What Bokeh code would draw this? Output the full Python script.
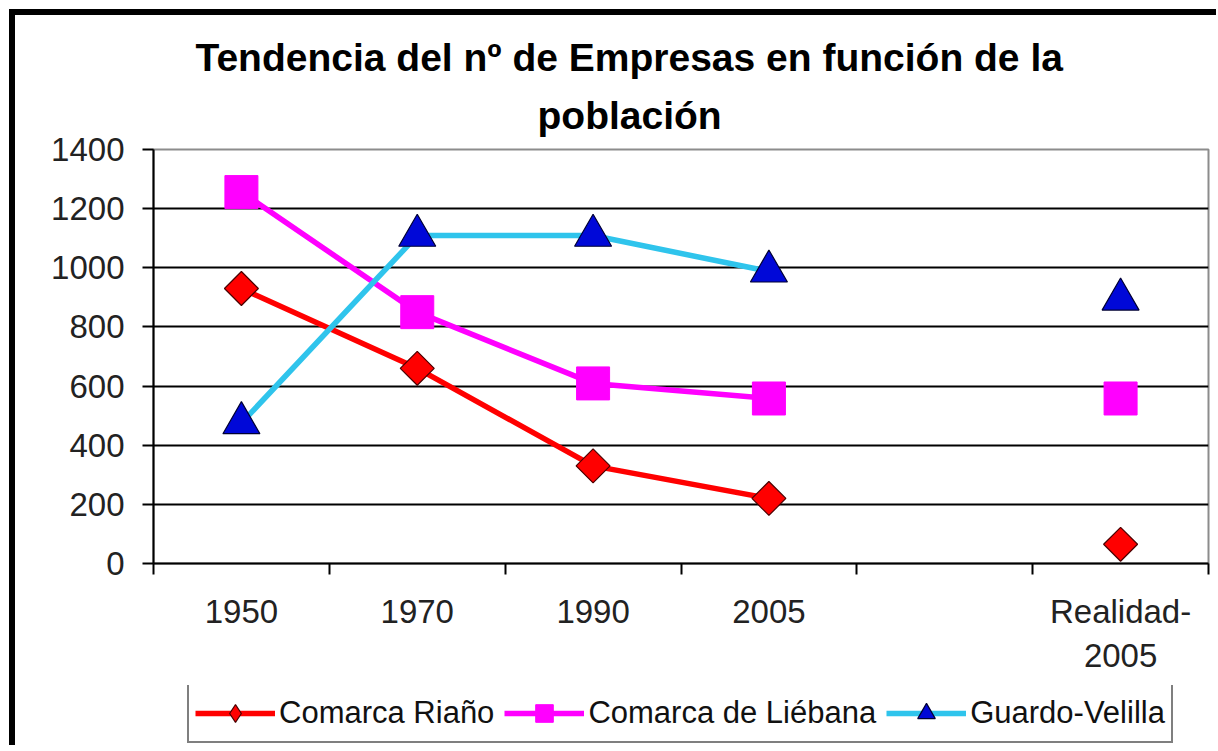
import numpy as np
from bokeh.plotting import figure
from bokeh.layouts import column
from bokeh.models import FixedTicker, Legend, LegendItem, Title, Range1d
from bokeh.embed import file_html
from bokeh.resources import INLINE

# ---- data ----
categories = ["1950", "1970", "1990", "2005", "", "Realidad-\n2005"]
riano = [930, 660, 330, 220, np.nan, 65]
liebana = [1256, 850, 609, 558, np.nan, 558]
guardo = [475, 1109, 1109, 988, np.nan, 893]
series_names = ["Comarca Riaño", "Comarca de Liébana", "Guardo-Velilla"]
y_ticks = [0, 200, 400, 600, 800, 1000, 1200, 1400]
title_lines = ["Tendencia del nº de Empresas en función de la", "población"]

FONT = "Liberation Sans"

x = list(range(len(categories)))

# ---------------- main chart ----------------
p = figure(frame_width=1055, frame_height=414, output_backend="svg", toolbar_location=None,
           title_location=None,
           x_range=Range1d(-0.5, len(categories) - 0.5), y_range=Range1d(0, 1400),
           min_border_left=138, min_border_right=8, min_border_top=134,
           min_border_bottom=122,
           background_fill_color="white", border_fill_color="white")

p.outline_line_color = "#8c8c8c"
p.outline_line_width = 2

p.xgrid.visible = False
p.ygrid.grid_line_color = "black"
p.ygrid.grid_line_width = 2
p.ygrid.ticker = FixedTicker(ticks=y_ticks)

p.yaxis.ticker = FixedTicker(ticks=y_ticks, minor_ticks=[])
p.yaxis.axis_line_color = "black"
p.yaxis.axis_line_width = 2
p.yaxis.major_tick_out = 11
p.yaxis.major_tick_in = 0
p.yaxis.major_tick_line_width = 2
p.yaxis.minor_tick_out = 0
p.yaxis.minor_tick_in = 0
p.yaxis.major_label_standoff = 18
p.yaxis.major_label_text_font = FONT
p.yaxis.major_label_text_font_size = "33px"
p.yaxis.major_label_text_color = "#222222"

p.xaxis.ticker = FixedTicker(ticks=[i for i, c in enumerate(categories) if c],
                             minor_ticks=[i - 0.5 for i in range(len(categories) + 1)])
p.xaxis.major_label_overrides = {i: c for i, c in enumerate(categories) if c}
p.xaxis.axis_line_color = "black"
p.xaxis.axis_line_width = 2
p.xaxis.major_tick_out = 0
p.xaxis.major_tick_in = 0
p.xaxis.minor_tick_out = 11
p.xaxis.minor_tick_in = 0
p.xaxis.minor_tick_line_color = "black"
p.xaxis.minor_tick_line_width = 2
p.xaxis.major_label_standoff = 18
p.xaxis.major_label_text_font = FONT
p.xaxis.major_label_text_font_size = "33px"
p.xaxis.major_label_text_color = "#222222"

styles = [
    dict(color="#FF0000", marker="square", size=24, angle=np.pi / 4, legend_marker="diamond",
         fill="#FF0000", line="#4a0000", lw=1.2),
    dict(color="#FF00FF", marker="square", size=33, angle=0, legend_marker="square",
         fill="#FF00FF", line="#FF00FF", lw=1),
    dict(color="#2FC4EC", marker="triangle", size=37, angle=0, legend_marker="triangle",
         fill="#0008D8", line="#000033", lw=1.2),
]
for ys, st in zip([riano, liebana, guardo], styles):
    p.line(x, ys, line_color=st["color"], line_width=5.5)
    p.scatter(x, ys, marker=st["marker"], size=st["size"], angle=st["angle"],
              fill_color=st["fill"], line_color=st["line"], line_width=st["lw"])

p.add_layout(Title(text=title_lines[1], align="left", offset=384, standoff=26,
                   text_font=FONT, text_font_size="39px", text_font_style="bold",
                   text_color="black"), "above")
p.add_layout(Title(text=title_lines[0], align="left", offset=42, standoff=0,
                   text_font=FONT, text_font_size="39px", text_font_style="bold",
                   text_color="black"), "above")

# ---------------- legend strip ----------------
p2 = figure(width=1201, height=60, output_backend="svg", toolbar_location=None,
            title_location=None, x_axis_type=None, y_axis_type=None,
            x_range=Range1d(0, 1), y_range=Range1d(0, 1),
            min_border_left=0, min_border_right=0, min_border_top=0, min_border_bottom=0,
            outline_line_color=None, background_fill_color="white", border_fill_color="white")

items = []
for name, st in zip(series_names, styles):
    lr = p2.line([np.nan], [np.nan], line_color=st["color"], line_width=5.5)
    lg = p2.scatter([np.nan], [np.nan], marker=st["legend_marker"], size=10,
                    fill_color=st["fill"], line_color=st["line"], line_width=st["lw"])
    items.append(LegendItem(label=name, renderers=[lr, lg]))

legend = Legend(items=items, orientation="horizontal", location=(34, 2),
                label_text_font=FONT, label_text_font_size="31px", label_text_color="#111111",
                glyph_width=80, glyph_height=44, label_standoff=4, spacing=10, padding=6,
                margin=0, border_line_color="black", border_line_width=2,
                background_fill_color="white", background_fill_alpha=1.0)
p2.add_layout(legend)

layout = column(p, p2, spacing=0)
layout.styles = {"border-left": "6px solid black", "border-top": "6px solid black",
                 "margin-left": "9px", "margin-top": "9px"}

open("out.html", "w").write(file_html(layout, INLINE))
